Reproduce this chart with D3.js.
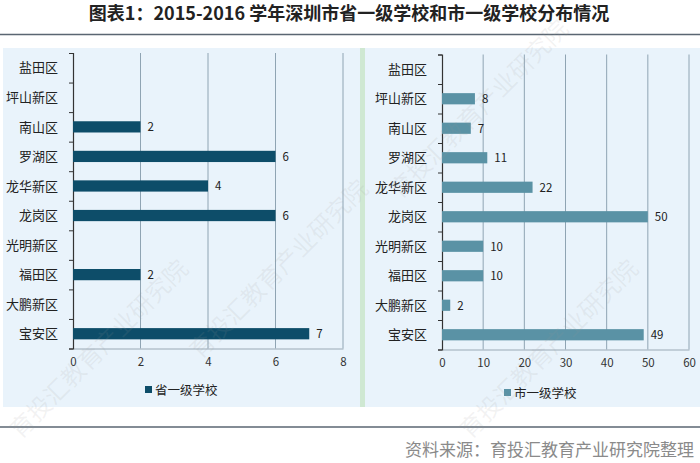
<!DOCTYPE html>
<html><head><meta charset="utf-8">
<script src="https://cdn.jsdelivr.net/npm/d3@7/dist/d3.min.js"></script>
<style>body{margin:0;background:#fff}svg{display:block}</style>
</head><body>
<svg id="c" width="700" height="463"></svg>
<script>
const categories = ["盐田区","坪山新区","南山区","罗湖区","龙华新区","龙岗区","光明新区","福田区","大鹏新区","宝安区"];
const provincialValues = [null,null,2,6,4,6,null,2,null,7];
const municipalValues = [null,8,7,11,22,50,10,10,2,49];
const leftTicks = [0,2,4,6,8];
const rightTicks = [0,10,20,30,40,50,60];
const seriesNames = ["省一级学校","市一级学校"];
const titleText = "图表1：2015-2016 学年深圳市省一级学校和市一级学校分布情况";
const sourceText = "资料来源：育投汇教育产业研究院整理";
const watermarkText = "育投汇教育产业研究院";

const svg = d3.select("#c");
const font = "'Noto Sans CJK SC','Noto Sans',sans-serif";

// title
svg.append("text").attr("x",349).attr("y",20).attr("text-anchor","middle")
  .attr("font-family",font).attr("font-weight","bold").attr("font-size",18).attr("fill","#222").text(titleText);
svg.append("line").attr("x1",0).attr("x2",700).attr("y1",34.5).attr("y2",34.5).attr("stroke","#5a6672").attr("stroke-width",1.5);

// panel background
svg.append("rect").attr("x",3).attr("y",48).attr("width",697).attr("height",359).attr("fill","#e9f3fb");
svg.append("rect").attr("x",360).attr("y",48).attr("width",5).attr("height",359).attr("fill","#cfe8d2");

svg.append("line").attr("x1",0).attr("x2",700).attr("y1",427).attr("y2",427).attr("stroke","#5a6672").attr("stroke-width",1.5);

function panel(values, ticks, x0, x1, yTop, yBot, color, labelX, legendX, legendY, name){
  const x = d3.scaleLinear().domain([ticks[0], ticks[ticks.length-1]]).range([x0,x1]);
  const y = d3.scaleBand().domain(categories).range([yTop,yBot]).paddingInner(0.62).paddingOuter(0.31);
  const g = svg.append("g");
  g.selectAll("line.grid").data(ticks.slice(1)).join("line")
    .attr("x1",d=>x(d)).attr("x2",d=>x(d)).attr("y1",yTop).attr("y2",yBot)
    .attr("stroke","#8fa4b3").attr("stroke-width",1);
  const ax = g.append("g").attr("transform",`translate(0,${yBot})`)
    .call(d3.axisBottom(x).tickValues(ticks).tickSize(0).tickPadding(9));
  ax.select(".domain").attr("stroke","#9aa9b5");
  ax.selectAll("text").attr("font-family",font).attr("font-size",11.5).attr("fill","#333");
  const yb = d3.scaleLinear().domain([0,categories.length]).range([yTop,yBot]);
  const ly = g.append("g").attr("transform",`translate(${x0},0)`)
    .call(d3.axisLeft(yb).tickValues(d3.range(0,categories.length+1)).tickSize(4).tickFormat(""));
  ly.select(".domain").attr("stroke","#333").attr("stroke-width",1.2);
  ly.selectAll(".tick line").attr("stroke","#333");
  g.selectAll("text.cat").data(categories).join("text")
    .attr("x",labelX).attr("y",d=>y(d)+y.bandwidth()/2).attr("dy","0.36em")
    .attr("text-anchor","end").attr("font-family",font).attr("font-size",13).attr("fill","#222").text(d=>d);
  const data = categories.map((c,i)=>({c, v: values[i]})).filter(d=>d.v!=null);
  g.selectAll("rect.bar").data(data).join("rect")
    .attr("x",x0).attr("y",d=>y(d.c)).attr("width",d=>x(d.v)-x0).attr("height",y.bandwidth()).attr("fill",color);
  g.selectAll("text.val").data(data).join("text")
    .attr("x",d=>x(d.v)+7).attr("y",d=>y(d.c)+y.bandwidth()/2).attr("dy","0.38em")
    .attr("font-family",font).attr("font-size",11.5).attr("fill","#222").text(d=>d.v);
  svg.append("rect").attr("x",legendX).attr("y",legendY-4).attr("width",7).attr("height",7).attr("fill",color);
  svg.append("text").attr("x",legendX+10).attr("y",legendY).attr("dy","0.36em")
    .attr("font-family",font).attr("font-size",12.5).attr("fill","#222").text(name);
}

panel(provincialValues, leftTicks, 73, 343, 53, 348.5, "#0d4d69", 58, 145, 390, seriesNames[0]);
panel(municipalValues, rightTicks, 442, 689, 54.5, 349.5, "#5a92a5", 427, 504, 393, seriesNames[1]);

// source
svg.append("text").attr("x",694).attr("y",456).attr("text-anchor","end")
  .attr("font-family",font).attr("font-size",17).attr("fill","#8a8a8a").text(sourceText);

// watermarks (kept inside the canvas)
const wm = [[20,440],[200,360],[470,440],[400,200]];
svg.selectAll("text.wm").data(wm).join("text")
  .attr("transform",d=>`translate(${d[0]},${d[1]}) rotate(-45)`)
  .attr("font-family",font).attr("font-size",24).attr("fill","#999").attr("fill-opacity",0.12)
  .text(watermarkText);
</script>
</body></html>
